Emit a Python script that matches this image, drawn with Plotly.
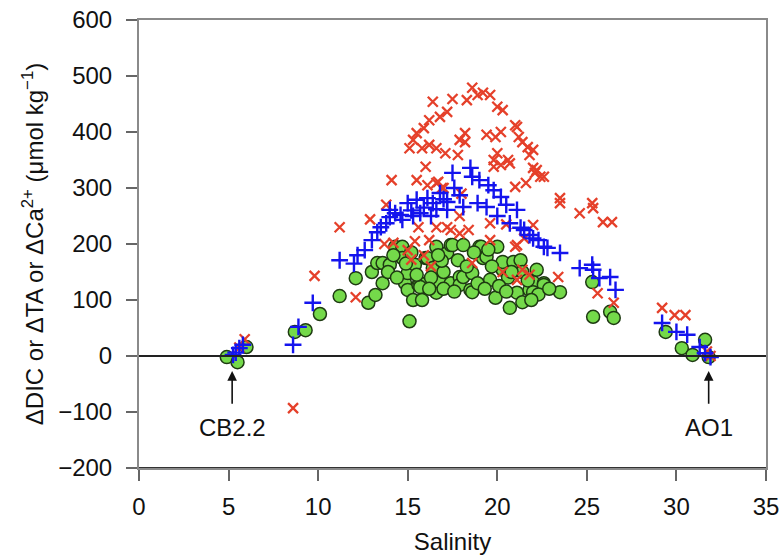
import plotly.graph_objects as go

# ΔDIC (red x)
dic_sal = [5.9, 5.6, 8.6, 9.8, 11.2, 12.1, 12.9, 13.8, 14.1, 14.2, 15.0, 15.2, 15.4, 15.5, 15.6, 16.0, 16.1, 16.2,
           16.6, 16.6, 16.7, 16.9, 17.4, 15.9, 16.3,
           15.1, 15.3, 15.5, 15.8, 15.9, 16.2, 16.2, 16.4, 16.6, 16.8, 17.1, 17.2, 17.5, 17.8, 17.9, 18.2, 18.2,
           18.3, 18.6, 18.9, 19.2, 19.4, 19.6, 19.8, 19.9, 20.0, 20.0, 20.2, 20.3, 20.6, 20.7, 21.0, 21.0, 21.1,
           21.2, 21.4, 21.6, 21.7, 21.8, 22.0, 22.1, 22.2, 22.4, 22.6,
           23.5, 23.5, 24.6, 25.3, 25.35, 25.9, 26.4, 23.4, 25.6, 26.5, 29.2, 29.9, 30.5, 31.7, 31.9,
           17.9, 18.4, 19.6, 20.5, 21.0, 21.5, 22.0, 18.6, 21.4, 21.1, 21.8, 20.3, 13.7, 17.0, 18.0,
           19.8, 20.2, 22.0, 17.2, 17.9, 19.6, 21.1]
dic_val = [30, 15, -93, 143, 230, 105, 244, 270, 314, 202, 189, 172, 205, 314, 230, 338, 305, 207,
           230, 309, 311, 300, 225, 180, 160,
           371, 386, 398, 371, 407, 421, 377, 454, 371, 427, 362, 436, 459, 359, 386, 382, 398,
           457, 479, 466, 470, 395, 466, 350, 391, 445, 362, 400, 439, 350, 344, 412, 302, 409,
           391, 382, 309, 373, 359, 368, 327, 332, 320, 320,
           282, 273, 255, 273, 264, 239, 239, 141, 112, 95, 86, 73, 73, 8, 0,
           250, 225, 237, 235, 195, 210, 234, 166, 154, 136, 145, 150, 200, 300, 290,
           338, 341, 336, 230, 219, 207, 198]

# ΔTA (blue +)
ta_sal = [5.25, 5.4, 5.6, 5.8, 8.6, 8.9, 9.7,
          11.2, 12.2, 12.6, 13.0, 13.3, 13.8, 14.0, 14.0, 14.6, 14.7, 15.0, 15.2, 15.5, 15.7, 15.9, 16.1, 16.4,
          16.6, 16.8, 17.0, 17.2, 17.2, 17.5, 17.6, 17.9, 18.1, 18.5, 18.6, 18.9, 19.0, 19.4, 19.5, 19.8, 20.0,
          20.2, 20.5, 20.7, 21.1, 21.3, 21.5, 21.8, 22.0, 22.3, 22.8, 22.6, 23.5, 24.6, 25.3, 25.35, 25.7, 26.3,
          26.6, 29.2, 30.0, 30.6, 31.3, 31.6, 31.9, 12.0, 13.5, 14.3, 15.3, 16.3]
ta_val = [2, 6, 14, 20, 20, 52, 95,
          171, 180, 189, 207, 221, 237, 261, 248, 252, 243, 273, 260, 279, 255, 265, 282, 273,
          262, 291, 280, 275, 261, 327, 300, 287, 266, 336, 320, 273, 314, 266, 305, 296, 250,
          284, 270, 237, 261, 229, 225, 216, 210, 207, 193, 195, 184, 157, 163, 154, 139, 141,
          118, 59, 43, 38, 16, 5, -2, 165, 230, 255, 250, 250]

# ΔCa2+ (green circles)
ca_sal = [4.9, 5.5, 6.0, 8.7, 9.3, 10.1, 11.2, 12.1, 12.8, 13.2, 13.6, 13.0, 13.3, 13.6, 14.0, 14.3, 14.7,
          14.7, 14.85, 15.0, 15.0, 15.1, 15.4, 15.6, 15.7, 15.7, 16.0, 16.1, 16.4, 16.6, 16.6, 16.8, 17.2,
          17.4, 17.4, 17.5, 17.8, 17.9, 17.9, 18.1, 18.1, 18.5, 18.6, 18.6, 19.0, 19.1, 19.2, 19.4, 19.6,
          19.9, 20.0, 20.3, 20.3, 20.7, 20.9, 21.1, 21.3, 21.4, 21.4, 21.8, 22.0, 22.0, 22.2, 22.6, 22.6,
          23.5, 25.3, 25.35, 26.3, 26.5, 29.4, 30.3, 30.9, 31.6, 31.8,
          14.9, 15.5, 16.3, 17.0, 18.3, 19.7, 20.6, 16.9, 15.2,
          13.9, 14.4, 15.3, 15.8, 16.2, 17.0, 17.6, 18.9, 19.3, 20.1, 20.5, 21.7, 22.3, 14.2, 16.7,
          18.7, 19.5, 20.8, 21.9, 22.9]
ca_val = [-2, -11, 16, 43, 46, 75, 107, 139, 95, 109, 130, 150, 166, 166, 163, 195, 195,
          175, 130, 148, 118, 62, 163, 127, 130, 123, 175, 175, 157, 195, 113, 132, 184,
          198, 130, 198, 171, 141, 127, 198, 141, 118, 148, 114, 195, 195, 175, 177, 136,
          104, 195, 154, 168, 86, 168, 113, 171, 150, 96, 118, 132, 114, 154, 130, 127,
          114, 132, 70, 79, 68, 43, 14, 2, 29, -2,
          165, 145, 140, 150, 160, 160, 140, 170, 185,
          150, 140, 100, 100, 120, 120, 115, 130, 120, 125, 115, 135, 110, 180, 180,
          185, 190, 150, 100, 120]

x_ticks = [0, 5, 10, 15, 20, 25, 30, 35]
y_ticks = [-200, -100, 0, 100, 200, 300, 400, 500, 600]

fig = go.Figure()
fig.add_trace(go.Scatter(x=ca_sal, y=ca_val, mode="markers", name="ΔCa",
                         marker=dict(symbol="circle", size=13, color="#74d94a",
                                     line=dict(color="#1e3a12", width=1.5))))
fig.add_trace(go.Scatter(x=dic_sal, y=dic_val, mode="markers", name="ΔDIC",
                         marker=dict(symbol="x-thin", size=10, color="#e5402a",
                                     line=dict(color="#e5402a", width=2.3))))
fig.add_trace(go.Scatter(x=ta_sal, y=ta_val, mode="markers", name="ΔTA",
                         marker=dict(symbol="cross-thin", size=12, color="#1414ee",
                                     line=dict(color="#1414ee", width=2.4))))

# zero line and bottom frame line
fig.add_shape(type="line", xref="x", yref="y", x0=0, x1=35, y0=0, y1=0,
              line=dict(color="#222", width=2))
fig.add_shape(type="line", xref="x", yref="y", x0=0, x1=35, y0=-200, y1=-200,
              line=dict(color="#333", width=2))

# station annotations
for sx, label in [(5.2, "CB2.2"), (31.8, "AO1")]:
    fig.add_annotation(x=sx, y=-27, ax=sx, ay=-88, xref="x", yref="y", axref="x", ayref="y",
                       text="", showarrow=True, arrowhead=2, arrowsize=1.2, arrowwidth=1.6,
                       arrowcolor="#111")
    fig.add_annotation(x=sx, y=-128, xref="x", yref="y", text=label, showarrow=False,
                       font=dict(size=24, color="#111"))

fig.update_layout(
    width=782, height=557,
    margin=dict(l=139, r=16, t=20, b=89),
    paper_bgcolor="white", plot_bgcolor="white",
    showlegend=False,
    font=dict(family="Liberation Sans, Arial, sans-serif", size=24, color="#111"),
)
fig.update_xaxes(range=[0, 35], tickvals=x_ticks, ticks="outside", ticklen=11, tickwidth=1.5,
                 tickcolor="#666", showgrid=False, zeroline=False, showline=True, mirror=True,
                 linecolor="#8a8a8a", linewidth=2, automargin=False, ticklabeloverflow="allow",
                 ticklabelstandoff=5,
                 title=dict(text="Salinity", standoff=14, font=dict(size=24)))
fig.update_yaxes(range=[-200, 600], tickvals=y_ticks, ticks="outside", ticklen=11, tickwidth=1.5,
                 tickcolor="#666", showgrid=False, zeroline=False, showline=True, mirror=True,
                 linecolor="#8a8a8a", linewidth=2, automargin=False, ticklabeloverflow="allow",
                 ticklabelstandoff=9,
                 tickformat="d", exponentformat="none",
                 title=dict(text="ΔDIC or ΔTA or ΔCa<sup>2+</sup> (μmol kg<sup>−1</sup>)", standoff=8,
                            font=dict(size=24)))

fig.write_html("out.html", config={"displayModeBar": False},
               post_script="document.body.style.margin='0';document.body.style.overflow='hidden';")
